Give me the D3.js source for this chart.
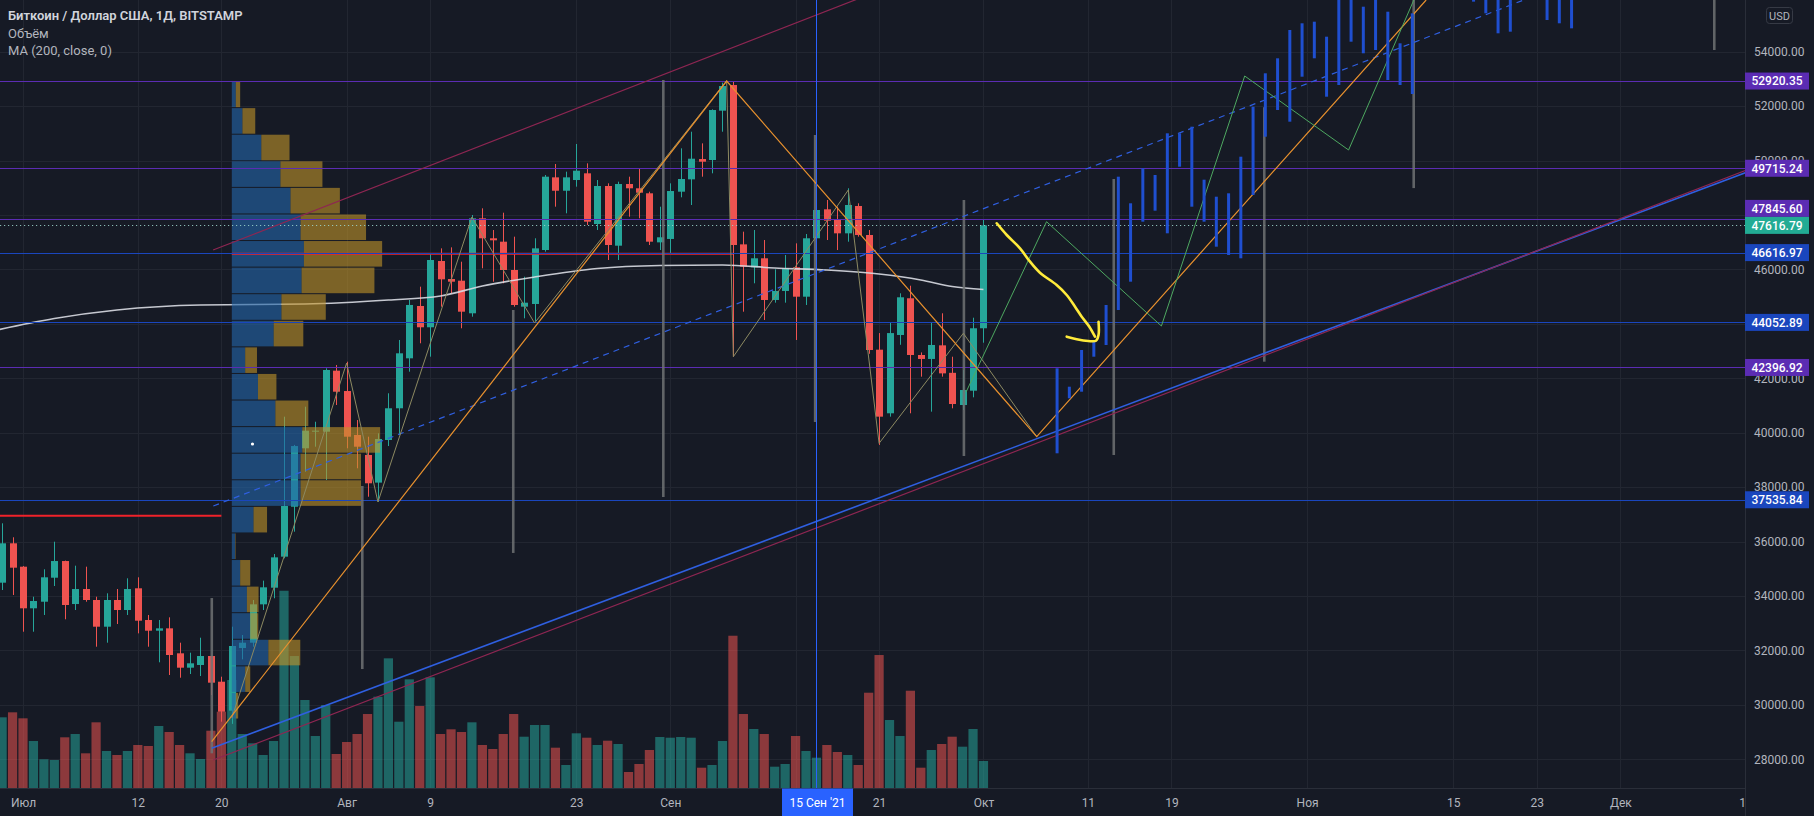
<!DOCTYPE html>
<html><head><meta charset="utf-8">
<script src="https://cdn.jsdelivr.net/npm/d3@7"></script>
<style>
html,body{margin:0;padding:0;background:#161a25;overflow:hidden}
svg{display:block}
text{font-family:Roboto,"Noto Sans",sans-serif}
</style></head><body>
<svg id="chart" width="1814" height="816"></svg>
<script>
// ---------------- DATA ----------------
const firstCandle = "2021-06-29";
const open  = [34489,35936,35077,33548,33790,34672,35285,33705,34256,33853,32872,33853,33485,34283,33118,32725,32812,31894,31366,31465,31795,30851,29786,32089,32284,33694,34305,35445,37281,39427,40037,40037,42279,41531,39916,39181,38166,39732,40897,42733,44655,43873,46308,45647,45585,44387,47877,47143,47018,45978,44630,44729,46712,49382,48890,49284,49530,47668,49064,46871,49137,48980,48796,46994,47118,48855,49309,50055,50019,51831,52774,46920,46076,46408,44876,45207,46077,44997,47143,48207,47815,47325,48329,47264,43050,40713,43590,44939,42855,42709,43210,42200,41017,41543,43837];
const high  = [36671,36157,35100,33974,34981,35995,35300,35114,35077,33974,34099,34257,34650,34687,33302,33118,33216,32284,31917,32468,31800,31035,32872,32566,33853,34564,35543,40588,39550,40955,40403,42366,42488,42609,40465,39853,39977,41448,43406,44876,45365,46590,46773,46810,46283,47999,48244,47447,48083,47202,45732,47143,49468,49872,49590,50607,49897,49284,49162,49223,49406,49715,48855,48304,49162,50448,51059,50631,51880,52860,52920.35,47386,47447,47080,46004,46529,46957,47300,48304,48550,48304,48980,48428,47447,43660,44042,45122,45400,42950,44042,44387,42792,42302,44225,47845.6];
const low   = [34220,34037,32688,32688,33302,34367,33144,33485,33790,32137,32284,32971,33302,32627,32137,31564,31097,30998,31134,31060,30362,29381,29300,31673,32137,33485,33916,35385,36363,38567,39485,38262,41018,39427,38692,37648,37465,39511,39916,42242,43285,42793,44630,45122,43836,44262,46040,45548,45489,44630,44203,44100,46650,48304,48061,49039,47631,47447,46345,46345,47936,47877,46896,46712,46590,48649,48366,49406,49530,51059,42793,44446,45489,44141,44777,44777,43406,44692,47080,47080,46712,47018,47202,42900,39550,40589,43230,40713,42058,40773,42058,40896,40834,41300,43307];
const close = [35936,35040,33548,33816,34687,35285,33669,34256,33853,32872,33853,33485,34256,33093,32725,32812,31832,31366,31527,31795,30815,29749,32163,32284,33694,34319,35420,37307,39510,40074,40074,42304,41506,39853,39485,38141,39769,40897,42917,44693,43873,46345,45635,45548,44446,47877,47143,47069,45978,44692,44777,46773,49406,48890,49382,49627,47753,49064,46896,49137,48980,48818,47018,47180,48880,49321,50067,49957,51856,52737,46896,46099,46408,44876,45207,46040,44997,47143,48182,47789,47325,48366,47264,43038,40589,43660,44975,42855,42709,43223,42180,41054,41568,43837,47616.79];
const volume = [9230,9880,9100,6150,3770,3680,6630,7060,4550,8580,4850,4330,4850,5630,5500,8100,7320,5630,4550,3810,7490,9960,14080,7060,5850,4330,6150,25690,17200,11480,6800,10830,4460,6020,7060,9660,11910,16900,8660,14170,10700,14430,7060,7670,7320,8580,5630,5110,7060,9660,6710,8230,8230,5280,3030,7150,6580,5630,6190,5760,2120,3160,4980,6670,6580,6670,6580,2680,3030,6150,19840,9660,7710,7060,2810,3160,6800,4850,3980,5630,4720,4330,3030,12430,17330,8880,6800,12690,2680,4980,5760,6710,5410,7710,3550];

// 200-day moving average, read at sample dates
const maDates  = ["2021-06-27","2021-07-04","2021-07-10","2021-07-18","2021-07-28","2021-08-05","2021-08-10","2021-08-14","2021-08-19","2021-08-25","2021-08-31","2021-09-06","2021-09-11","2021-09-16","2021-09-21","2021-09-25","2021-09-28","2021-10-01"];
const maValues = [43640,44196,44509,44693,44729,44876,45023,45390,45721,46033,46143,46162,46052,45978,45831,45611,45372,45262];

// price axis ticks
const priceTicks = [28000,30000,32000,34000,36000,38000,40000,42000,44000,46000,48000,50000,52000,54000];
// time axis ticks
const timeTickDates  = ["2021-07-01","2021-07-12","2021-07-20","2021-08-01","2021-08-09","2021-08-23","2021-09-01","2021-09-13","2021-09-21","2021-10-01","2021-10-11","2021-10-19","2021-11-01","2021-11-15","2021-11-23","2021-12-01","2021-12-13"];
const timeTickLabels = ["Июл","12","20","Авг","9","23","Сен","13","21","Окт","11","19","Ноя","15","23","Дек","13"];
const crosshairDate = "2021-09-15";
const crosshairLabel = "15 Сен '21";

// horizontal levels
const hLevels = [52920.35, 49715.24, 47845.60, 46616.97, 44052.89, 42396.92, 37535.84];
const hKinds  = ["purple","purple","purple","blue","blue","purple","blue"];
const lastPrice = 47616.79;

// fixed range volume profile (Jul 21 – Sep 7)
const profStart = "2021-07-21", profEnd = "2021-09-07";
const profHigh = 52920.35, profLow = 29480;
const profUp   = [1680,4450,12310,20290,24490,28690,30070,29110,20710,17470,5590,10920,18190,29400,28690,28690,9070,1390,3490,6300,7690,15250,5590,1680];
const profDown = [1810,5330,11760,17510,20580,27300,32630,30370,18480,12350,4910,7690,13730,32470,25200,25200,5630,210,4200,4870,3360,13310,2100,970];
const prevPocPrice = 36950, prevPocEnd = "2021-07-20";

// drawings: trend lines (two anchors, extended right)
const trendLines = [
  {a:["2021-07-19T05:00",46713], b:["2021-08-25T06:30",52250], kind:"crimson", dash:false},
  {a:["2021-07-19T05:30",37307], b:["2021-08-25T06:30",42793], kind:"blue", dash:true},
  {a:["2021-07-19T01:40",28404], b:["2021-09-30T16:00",38997], kind:"blue", dash:false},
  {a:["2021-07-19T05:15",27974], b:["2021-09-30T16:00",38813], kind:"crimson", dash:false}
];
const orangeZig = [["2021-07-19T01:40",28647],["2021-09-06T09:36",52920],["2021-10-06T02:24",39853],["2021-11-12T09:36",55898]];
const oliveZig  = [["2021-07-21T00:00",29517],["2021-08-01T00:00",42561],["2021-08-04T00:00",37454],["2021-08-13T00:00",47925],["2021-08-19T00:00",44030],["2021-09-06T09:36",52933],["2021-09-07T01:00",42793],["2021-09-18T01:12",48917],["2021-09-21T00:00",39610],["2021-09-29T01:41",43652],["2021-10-06T02:24",39853]];
const greenZig  = [["2021-09-29T08:00",41495],["2021-10-07T01:00",47752],["2021-10-18T01:00",43920],["2021-10-26T00:29",53106],["2021-11-04T23:17",50387],["2021-11-11T05:17",55898]];

// grey vertical range bars
const greyDates = ["2021-07-19T02:00","2021-08-02T12:00","2021-08-16T23:00","2021-08-31T08:00","2021-09-14T21:00","2021-09-29T03:00","2021-10-13T11:30","2021-10-27T21:30","2021-11-11T05:00","2021-12-10T00:00"];
const greyHigh  = [33925,38042,44509,52961,50940,48552,49323,51958,56500,56500];
const greyLow   = [28220,31316,35581,37638,40395,39146,39182,42609,48987,54060];

// projected "bars pattern"
const ghostStart = "2021-10-08T01:12";
const ghostStepHours = 28.16;
const ghostHigh = [42366,41690,43038,43406,44692,49406,48429,49715,49468,51000,51000,51243,49296,48671,48796,50141,51978,53205,53756,54796,55042,55101,54550,56500,56500,55652,56500,55468,54307,55408,null,null,null,null,56500,56500,56500,56500,null,null,56500,56500,56500];
const ghostLow  = [39243,41264,41506,42792,43222,44509,45548,47753,48157,47326,49773,48304,47753,46834,46529,46408,48733,50876,51857,51427,53080,53756,52345,52774,54366,53940,54060,52959,52774,52444,null,null,null,null,55837,55408,54674,54734,null,null,55163,55042,54857];

// yellow hand-drawn arrow
const brushMain = [["2021-10-02T06:29",47694],["2021-10-03T05:31",47264],["2021-10-04T12:00",46775],["2021-10-05T11:02",46283],["2021-10-06T09:50",45879],["2021-10-08T00:14",45427],["2021-10-08T23:17",45060],["2021-10-09T18:29",44630],["2021-10-10T09:50",44262],["2021-10-11T03:22",43895],["2021-10-11T16:19",43527]];
const brushHook = [["2021-10-08T23:17",43527],["2021-10-09T22:19",43432],["2021-10-11T01:00",43369],["2021-10-11T18:43",43380],["2021-10-12T00:29",43590],["2021-10-12T00:29",44078]];
const dotPoint = ["2021-07-22T23:31",39585];

// ---------------- CHART ----------------
const W = 1814, H = 816, PW = 1745, PH = 788;
const C = {bg:"#161a25", grid:"#222631", text:"#b2b5be", up:"#26a69a", down:"#ef5350",
  purple:"#5b2cb3", blue:"#1a46bd", crimson:"#8e2652", orange:"#e8912e", olive:"#8d8a62", green:"#4ea861"};
const T = s => new Date(s.length === 10 ? s + "T00:00:00Z" : s + ":00Z");

const x = d3.scaleUtc().domain([T("2021-07-01"), T("2021-12-01")]).range([23, 23 + 153 * 10.44]);
const y = d3.scaleLinear().domain([28000, 54000]).range([759.3, 51.66]);
const vy = d3.scaleLinear().domain([0, 20000]).range([788.3, 634.5]);

const svg = d3.select("#chart");
svg.append("rect").attr("width", W).attr("height", H).attr("fill", C.bg);
const defs = svg.append("defs");
defs.append("clipPath").attr("id", "plot").append("rect").attr("width", PW).attr("height", PH);
defs.append("clipPath").attr("id", "taxis").append("rect").attr("x", 0).attr("y", PH).attr("width", PW).attr("height", H - PH);

// grid
const grid = svg.append("g").attr("clip-path", "url(#plot)");
grid.selectAll(".hg").data(priceTicks).join("line")
  .attr("x1", 0).attr("x2", PW).attr("y1", d => Math.round(y(d)) + 0.5).attr("y2", d => Math.round(y(d)) + 0.5)
  .attr("stroke", C.grid);
grid.selectAll(".vg").data(timeTickDates).join("line")
  .attr("x1", d => Math.round(x(T(d))) + 0.5).attr("x2", d => Math.round(x(T(d))) + 0.5).attr("y1", 0).attr("y2", PH)
  .attr("stroke", C.grid);

const plot = svg.append("g").attr("clip-path", "url(#plot)");
const candleDates = d3.utcDay.range(T(firstCandle), d3.utcDay.offset(T(firstCandle), open.length));
const bars = candleDates.map((d, i) => ({d, o: open[i], h: high[i], l: low[i], c: close[i], v: volume[i]}));

// volume
plot.selectAll(".vol").data(bars).join("rect")
  .attr("x", b => x(b.d) - 4.6).attr("width", 9.2)
  .attr("y", b => vy(b.v)).attr("height", b => vy(0) - vy(b.v))
  .attr("fill", b => b.c >= b.o ? C.up : C.down).attr("fill-opacity", 0.55);

// candles
const cg = plot.append("g");
cg.selectAll(".wick").data(bars).join("line")
  .attr("x1", b => Math.round(x(b.d)) + 0.5).attr("x2", b => Math.round(x(b.d)) + 0.5)
  .attr("y1", b => y(b.h)).attr("y2", b => y(b.l))
  .attr("stroke", b => b.c >= b.o ? C.up : C.down).attr("stroke-width", 1);
cg.selectAll(".body").data(bars).join("rect")
  .attr("x", b => Math.round(x(b.d)) - 3).attr("width", 7)
  .attr("y", b => y(Math.max(b.o, b.c))).attr("height", b => Math.max(1, Math.abs(y(b.o) - y(b.c))))
  .attr("fill", b => b.c >= b.o ? C.up : C.down);

// MA
plot.append("path").datum(maDates.map((d, i) => [T(d), maValues[i]]))
  .attr("d", d3.line().x(d => x(d[0])).y(d => y(d[1])).curve(d3.curveMonotoneX))
  .attr("fill", "none").attr("stroke", "#d9dce3").attr("stroke-opacity", 0.9).attr("stroke-width", 1.6);

// volume profile
const nRows = profUp.length, rowP = (profHigh - profLow) / nRows;
const px0 = x(T(profStart)), px1 = x(T(profEnd));
const totals = profUp.map((u, i) => u + profDown[i]);
const pw = d3.scaleLinear().domain([0, d3.max(totals)]).range([0, 0.3 * (px1 - px0)]);
const prof = plot.append("g");
profUp.forEach((u, i) => {
  const top = y(profHigh - i * rowP), bot = y(profHigh - (i + 1) * rowP);
  prof.append("rect").attr("x", px0).attr("y", top + 0.5).attr("width", pw(u)).attr("height", bot - top - 1)
    .attr("fill", "#2366a8").attr("fill-opacity", 0.62);
  prof.append("rect").attr("x", px0 + pw(u)).attr("y", top + 0.5).attr("width", pw(profDown[i])).attr("height", bot - top - 1)
    .attr("fill", "#c2952a").attr("fill-opacity", 0.6);
});
const pocIdx = d3.maxIndex(totals);
const pocPrice = profHigh - (pocIdx + 0.5) * rowP;
plot.append("line").attr("x1", px0).attr("x2", px1).attr("y1", y(pocPrice)).attr("y2", y(pocPrice))
  .attr("stroke", "#f0222a").attr("stroke-width", 2);
plot.append("line").attr("x1", 0).attr("x2", x(T(prevPocEnd))).attr("y1", y(prevPocPrice)).attr("y2", y(prevPocPrice))
  .attr("stroke", "#f0222a").attr("stroke-width", 2);
plot.append("circle").attr("cx", x(T(dotPoint[0]))).attr("cy", y(dotPoint[1])).attr("r", 1.6).attr("fill", "#ffffff");

// horizontal levels
plot.selectAll(".hl").data(hLevels).join("line")
  .attr("x1", 0).attr("x2", PW).attr("y1", d => Math.round(y(d)) + 0.5).attr("y2", d => Math.round(y(d)) + 0.5)
  .attr("stroke", (d, i) => C[hKinds[i]]).attr("stroke-width", 1);
plot.append("line").attr("x1", 0).attr("x2", PW).attr("y1", Math.round(y(lastPrice)) + 0.5).attr("y2", Math.round(y(lastPrice)) + 0.5)
  .attr("stroke", "#9fd8cf").attr("stroke-dasharray", "1.2 2.8").attr("stroke-opacity", 0.85);

// grey range bars
plot.selectAll(".grey").data(greyDates).join("line")
  .attr("x1", d => x(T(d))).attr("x2", d => x(T(d)))
  .attr("y1", (d, i) => y(greyHigh[i])).attr("y2", (d, i) => y(greyLow[i]))
  .attr("stroke", "#6e7273").attr("stroke-width", 2.6).attr("stroke-opacity", 0.85);

// trend lines (extended right)
trendLines.forEach(t => {
  const x1 = x(T(t.a[0])), y1 = y(t.a[1]), x2 = x(T(t.b[0])), y2 = y(t.b[1]);
  const k = (y2 - y1) / (x2 - x1), xe = PW + 50;
  plot.append("line").attr("x1", x1).attr("y1", y1).attr("x2", xe).attr("y2", y1 + k * (xe - x1))
    .attr("stroke", C[t.kind] === C.blue ? "#2f5fe0" : C[t.kind]).attr("stroke-width", t.kind === "blue" && !t.dash ? 1.6 : 1.2)
    .attr("stroke-dasharray", t.dash ? "6 5" : null);
});
const zl = d3.line().x(d => x(T(d[0]))).y(d => y(d[1]));
plot.append("path").attr("d", zl(oliveZig)).attr("fill", "none").attr("stroke", C.olive).attr("stroke-width", 1);
plot.append("path").attr("d", zl(orangeZig)).attr("fill", "none").attr("stroke", C.orange).attr("stroke-width", 1.2);
plot.append("path").attr("d", zl(greenZig)).attr("fill", "none").attr("stroke", C.green).attr("stroke-width", 1);

// ghost bars
const g0 = T(ghostStart).getTime();
ghostHigh.forEach((h, i) => {
  if (h == null) return;
  const gx = x(new Date(g0 + i * ghostStepHours * 3600e3));
  plot.append("line").attr("x1", gx).attr("x2", gx).attr("y1", y(h)).attr("y2", y(ghostLow[i]))
    .attr("stroke", "#1f4fd0").attr("stroke-width", 3);
});

// yellow brush arrow
const bl = d3.line().x(d => x(T(d[0]))).y(d => y(d[1])).curve(d3.curveCatmullRom);
[brushMain, brushHook].forEach(p => plot.append("path").attr("d", bl(p)).attr("fill", "none")
  .attr("stroke", "#ffeb3b").attr("stroke-width", 2.6).attr("stroke-linecap", "round").attr("stroke-linejoin", "round"));

// crosshair
const cx = Math.round(x(T(crosshairDate))) + 0.5;
plot.append("line").attr("x1", cx).attr("x2", cx).attr("y1", 0).attr("y2", PH).attr("stroke", "#2962ff").attr("stroke-width", 1);

// ---------------- AXES ----------------
svg.append("rect").attr("x", PW).attr("y", 0).attr("width", W - PW).attr("height", H).attr("fill", C.bg);
svg.append("rect").attr("x", 0).attr("y", PH).attr("width", PW).attr("height", H - PH).attr("fill", C.bg);
svg.append("line").attr("x1", PW + 0.5).attr("x2", PW + 0.5).attr("y1", 0).attr("y2", H).attr("stroke", "#2a2e39");
svg.append("line").attr("x1", 0).attr("x2", PW).attr("y1", PH + 0.5).attr("y2", PH + 0.5).attr("stroke", "#2a2e39");

// price labels on axis (positions resolved first so covered ticks can be hidden)
const lblH = 17;
const labels = hLevels.map((v, i) => ({v, color: C[hKinds[i]], fixed: false}));
labels.push({v: lastPrice, color: "#22ab94", fixed: true});
labels.forEach(l => l.y = y(l.v));
const placed = labels.filter(l => l.fixed);
labels.filter(l => !l.fixed).sort((a, b) => b.v - a.v).forEach(l => {
  placed.forEach(p => {
    if (Math.abs(l.y - p.y) < lblH) l.y = l.v > p.v ? p.y - lblH : p.y + lblH;
  });
  placed.push(l);
});
const covered = v => {
  const t0 = y(v) - 4.5, t1 = y(v) + 4.5;
  return d3.sum(labels, l => Math.max(0, Math.min(t1, l.y + lblH / 2) - Math.max(t0, l.y - lblH / 2)));
};

const yAxis = svg.append("g").attr("transform", `translate(${PW},0)`)
  .call(d3.axisRight(y).tickValues(priceTicks.filter(v => covered(v) < 6)).tickFormat(d3.format(".2f")).tickSize(0).tickPadding(9));
yAxis.select(".domain").remove();
yAxis.selectAll("text").attr("fill", C.text).attr("font-size", 12).attr("font-family", "Roboto");

const chW = 71;
const xTicks = timeTickDates.map((d, i) => ({t: T(d), s: timeTickLabels[i]}))
  .filter(d => Math.abs(x(d.t) - cx) > chW / 2 + 6);
const xAxisWrap = svg.append("g").attr("clip-path", "url(#taxis)");
const xAxis = xAxisWrap.append("g").attr("transform", `translate(0,${PH})`)
  .call(d3.axisBottom(x).tickValues(xTicks.map(d => d.t)).tickFormat((d, i) => xTicks[i].s).tickSize(0).tickPadding(10));
xAxis.select(".domain").remove();
xAxis.selectAll("text").attr("fill", C.text).attr("font-size", 12).attr("font-family", "Roboto");

// crosshair time label
svg.append("rect").attr("x", cx - chW / 2 + 1).attr("y", PH + 0.5).attr("width", chW).attr("height", H - PH).attr("fill", "#2962ff");
svg.append("text").attr("x", cx + 1).attr("y", 806.5).attr("text-anchor", "middle").attr("fill", "#ffffff")
  .attr("font-size", 12).text(crosshairLabel);

const lg = svg.append("g");
labels.forEach(l => {
  lg.append("rect").attr("x", PW).attr("y", l.y - lblH / 2).attr("width", 64).attr("height", lblH).attr("fill", l.color);
  lg.append("text").attr("x", PW + 32).attr("y", l.y + 4.3).attr("text-anchor", "middle").attr("fill", "#ffffff")
    .attr("font-size", 12).attr("font-weight", 500).text(d3.format(".2f")(l.v));
});

// USD button
svg.append("rect").attr("x", 1766.5).attr("y", 7.5).attr("width", 26).attr("height", 16).attr("rx", 3)
  .attr("fill", "none").attr("stroke", "#363a45");
svg.append("text").attr("x", 1779.5).attr("y", 19.5).attr("text-anchor", "middle").attr("fill", C.text).attr("font-size", 11).text("USD");

// legend
const leg = svg.append("g").attr("font-family", "'Open Sans','Noto Sans',sans-serif").attr("font-size", 13);
leg.append("text").attr("x", 8).attr("y", 20).attr("fill", "#d1d4dc").attr("font-weight", 600).text("Биткоин / Доллар США, 1Д, BITSTAMP");
leg.append("text").attr("x", 8).attr("y", 38).attr("fill", "#b2b5be").text("Объём");
leg.append("text").attr("x", 8).attr("y", 55).attr("fill", "#b2b5be").text("MA (200, close, 0)");
</script>
</body></html>
